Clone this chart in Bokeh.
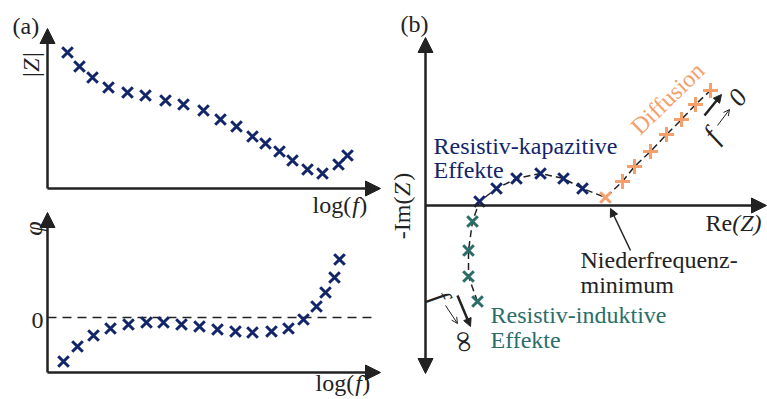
import numpy as np
from bokeh.plotting import figure
from bokeh.models import Range1d, Arrow, NormalHead, OpenHead, Label
from bokeh.embed import file_html
from bokeh.resources import INLINE

# ---- (a) Bode diagram: magnitude and phase over log(f) ----
logf_mag = [2.0, 3.2, 4.5, 6.1, 8.0, 9.8, 11.8, 13.6, 15.6, 17.3, 18.9,
            20.5, 21.8, 23.2, 24.5, 26.0, 27.5, 29.1, 30.0]
mag = [13.6, 12.2, 11.1, 10.1, 9.6, 9.3, 8.8, 8.4, 7.8, 6.9, 6.2,
       5.2, 4.5, 3.7, 2.8, 1.9, 1.5, 2.4, 3.3]
logf_phase = [1.6, 3.0, 4.6, 6.3, 8.1, 9.9, 11.6, 13.4, 15.2, 17.0, 18.8,
              20.5, 22.4, 24.1, 25.6, 26.9, 27.8, 28.7, 29.2]
phase = [-4.4, -2.9, -1.8, -1.1, -0.7, -0.5, -0.5, -0.7, -0.9, -1.2, -1.4,
         -1.5, -1.4, -1.1, -0.2, 1.1, 2.5, 4.0, 5.8]

# ---- (b) Nyquist diagram: Re(Z) / -Im(Z) ----
re_ind = [5.2, 4.3, 4.3, 4.7]          # resistive-inductive branch (high f)
im_ind = [-9.6, -7.1, -4.5, -1.6]
re_cap = [5.4, 7.1, 9.1, 11.5, 13.8, 15.7]   # resistive-capacitive arc
im_cap = [0.4, 1.7, 2.7, 3.2, 2.7, 1.7]
re_diff = [18.0, 19.7, 20.9, 22.5, 24.1, 25.6, 27.0, 28.5]  # diffusion tail
im_diff = [0.8, 2.4, 3.9, 5.4, 7.1, 8.6, 10.1, 11.5]

DARK = "#222222"
NAVY = "#12256a"
TEAL = "#2b6e69"
ORANGE = "#f3a06c"
FONT = "Liberation Serif"
FS = "24px"
MS = 15      # marker size
MW = 3       # marker stroke width

p = figure(width=767, height=399,
           x_range=Range1d(-4.7, 72.0), y_range=Range1d(-21.1, 18.8),
           output_backend="svg", toolbar_location=None,
           x_axis_location=None, y_axis_location=None, min_border=0)
p.extra_x_ranges = {"re": Range1d(-42.5, 34.2)}
p.extra_y_ranges = {"phase": Range1d(-8.2, 31.7), "im": Range1d(-19.4, 20.5)}
p.grid.grid_line_color = None
p.outline_line_color = None
p.background_fill_color = "white"
p.border_fill_color = "white"


def axis_arrow(x0, y0, x1, y1, xr="default", yr="default", both=False):
    head = dict(size=15, fill_color=DARK, line_color=DARK, line_width=1)
    p.add_layout(Arrow(x_start=x0, y_start=y0, x_end=x1, y_end=y1,
                       start=NormalHead(**head) if both else None,
                       end=NormalHead(**head),
                       line_width=2.5, line_color=DARK,
                       x_range_name=xr, y_range_name=yr))


def note_arrow(x0, y0, x1, y1, width, head, xr="re", yr="im"):
    p.add_layout(Arrow(x_start=x0, y_start=y0, x_end=x1, y_end=y1,
                       end=head, line_width=width, line_color=DARK,
                       x_range_name=xr, y_range_name=yr))


def label(x, y, text, xr="default", yr="default", **kw):
    opts = dict(text_font=FONT, text_font_size=FS, text_color=DARK,
                text_baseline="middle", text_align="left")
    opts.update(kw)
    p.add_layout(Label(x=x, y=y, text=text, x_range_name=xr,
                       y_range_name=yr, **opts))


# ---------------- (a) magnitude ----------------
axis_arrow(0, 0, 0, 16.0)
axis_arrow(0, 0, 33.3, 0)
p.scatter(logf_mag, mag, marker="x", size=MS, line_width=MW, line_color=NAVY)
label(-3.5, 16.3, "(a)")
label(-1.7, 12.35, "|Z|", angle=np.pi / 2, text_align="center",
      text_font_style="italic")
x0 = 26.5 + 3.87
label(x0, -1.6, "log(", text_align="right")
label(x0 + 0.1, -1.6, "f", text_font_style="italic")
label(x0 + 0.8, -1.6, ")")

# ---------------- (a) phase ----------------
axis_arrow(0, -5.5, 0, 10.5, yr="phase")
axis_arrow(0, -5.5, 33.3, -5.5, yr="phase")
p.line([0, 32.8], [0, 0], y_range_name="phase", line_color=DARK,
       line_width=1.5, line_dash="9 6")
p.scatter(logf_phase, phase, marker="x", size=MS, line_width=MW,
          line_color=NAVY, y_range_name="phase")
label(-1.4, 8.9, "\u03c6", yr="phase", angle=np.pi / 2, text_align="center",
      text_font_style="italic", text_font_size="26px")
label(-0.4, -0.3, "0", yr="phase", text_align="right")
x1 = 26.8 + 3.87
label(x1, -6.5, "log(", yr="phase", text_align="right")
label(x1 + 0.1, -6.5, "f", yr="phase", text_font_style="italic")
label(x1 + 0.8, -6.5, ")", yr="phase")

# ---------------- (b) Nyquist ----------------
axis_arrow(0, -16.8, 0, 16.8, xr="re", yr="im", both=True)
axis_arrow(0, 0, 34.1, 0, xr="re", yr="im")

p.line(re_ind + re_cap + re_diff, im_ind + im_cap + im_diff,
       x_range_name="re", y_range_name="im",
       line_color=DARK, line_width=1.5, line_dash="7 4")
p.scatter(re_ind, im_ind, marker="x", size=MS, line_width=MW,
          line_color=TEAL, x_range_name="re", y_range_name="im")
p.scatter(re_cap, im_cap, marker="x", size=MS, line_width=MW,
          line_color=NAVY, x_range_name="re", y_range_name="im")
p.scatter(re_diff[:1], im_diff[:1], marker="x", size=MS, line_width=MW,
          line_color=ORANGE, x_range_name="re", y_range_name="im")
p.scatter(re_diff[1:], im_diff[1:], marker="x", size=MS, line_width=MW,
          angle=np.pi / 4, line_color=ORANGE,
          x_range_name="re", y_range_name="im")

label(-2.5, 18.2, "(b)", xr="re", yr="im")
label(0.8, 6.0, "Resistiv-kapazitive", xr="re", yr="im", text_color=NAVY)
label(0.8, 3.6, "Effekte", xr="re", yr="im", text_color=NAVY)
label(24.2, 10.7, "Diffusion", xr="re", yr="im", text_color=ORANGE,
      angle=np.radians(44), text_align="center")
label(28.0, -1.7, "Re", xr="re", yr="im")
label(30.67, -1.7, "(Z)", xr="re", yr="im", text_font_style="italic")
label(-2.4, 0.9, "-Im(", xr="re", yr="im", angle=np.pi / 2, text_align="right")
label(-2.4, 0.95, "Z", xr="re", yr="im", angle=np.pi / 2,
      text_font_style="italic")
label(-2.4, 2.47, ")", xr="re", yr="im", angle=np.pi / 2)
label(15.5, -5.4, "Niederfrequenz-", xr="re", yr="im")
label(15.5, -7.9, "minimum", xr="re", yr="im")
label(6.5, -10.9, "Resistiv-induktive", xr="re", yr="im", text_color=TEAL)
label(6.5, -13.4, "Effekte", xr="re", yr="im", text_color=TEAL)

# arrow to the low-frequency minimum
note_arrow(20.5, -4.5, 18.5, -0.3, 1.5,
           NormalHead(size=8, fill_color=DARK, line_color=DARK))

# f -> 0 at the diffusion end
note_arrow(27.9, 9.0, 29.6, 11.1, 2.5,
           NormalHead(size=8, fill_color=DARK, line_color=DARK))
ang0 = np.radians(53)
label(28.6, 7.0, "f", xr="re", yr="im", angle=ang0, text_align="center",
      text_font_style="italic", text_font_size="28px")
note_arrow(29.2, 8.0, 30.4, 9.6, 1.0, OpenHead(size=6, line_color=DARK, line_width=1))
label(31.2, 10.8, "0", xr="re", yr="im", angle=ang0, text_align="center",
      text_font_style="italic", text_font_size="26px")

# f -> infinity at the inductive end
note_arrow(3.2, -9.0, 4.5, -12.1, 2.5,
           NormalHead(size=8, fill_color=DARK, line_color=DARK))
ang1 = np.radians(-61)
label(1.5, -9.1, "f", xr="re", yr="im", angle=ang1, text_align="center",
      text_font_style="italic", text_font_size="28px")
note_arrow(2.0, -10.0, 3.2, -11.8, 1.0, OpenHead(size=6, line_color=DARK, line_width=1))
label(4.0, -13.6, "\u221e", xr="re", yr="im", angle=np.radians(-80),
      text_align="center", text_font_size="30px")

open("out.html", "w").write(file_html(p, INLINE))
